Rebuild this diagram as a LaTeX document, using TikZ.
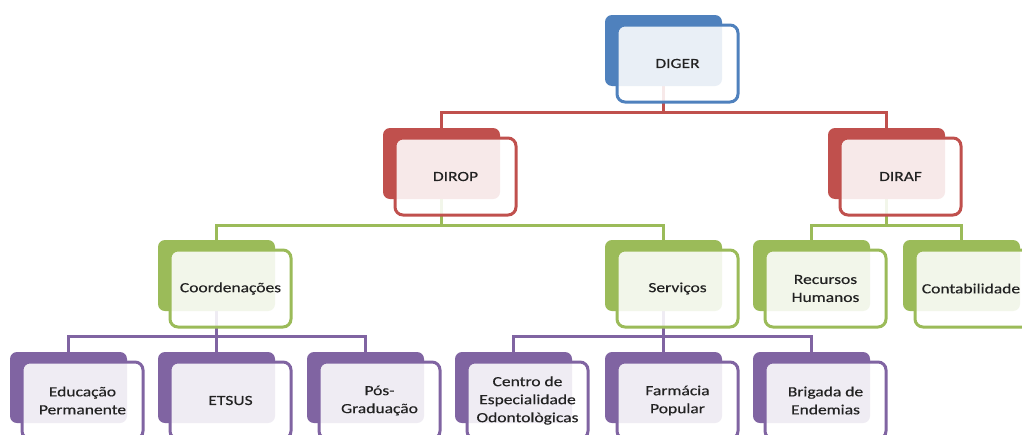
\documentclass[tikz,border=0pt]{standalone}
\usepackage{fontspec}
\setmainfont[FakeStretch=1.25, FakeBold=0.4]{Carlito}
\usetikzlibrary{backgrounds}
\definecolor{oblue}{HTML}{4F81BD}
\definecolor{ored}{HTML}{C0504D}
\definecolor{ogreen}{HTML}{9BBB59}
\definecolor{opurple}{HTML}{8064A2}
\definecolor{otext}{HTML}{222222}
\tikzset{
  backbox/.style={rectangle, rounded corners=7pt, minimum width=117pt, minimum height=71pt, inner sep=0pt, draw=none},
  frontbox/.style={rectangle, rounded corners=8pt, minimum width=121pt, minimum height=77pt, inner sep=2pt,
    line width=3pt, fill=white, fill opacity=0.88, text opacity=1, text=otext, align=center,
    font=\fontsize{14}{18}\selectfont},
  conn/.style={line width=3pt}
}
\newcommand\orgunit[5]{%
  \node[backbox, fill=#4] (#1b) at (#2+58.5, #3+35.5) {};
  \node[frontbox, draw=#4] (#1) at (#2+72.5, #3+48.5) {#5};
}
\begin{document}
\begin{tikzpicture}[x=1pt, y=-1pt]
\clip (0,0) rectangle (1022,434);
% level 1
\orgunit{diger}{605}{15}{oblue}{DIGER}
% level 2
\orgunit{dirop}{383}{128}{ored}{DIROP}
\orgunit{diraf}{828}{128}{ored}{DIRAF}
% level 3
\orgunit{coord}{158}{240}{ogreen}{Coordenações}
\orgunit{serv}{605}{240}{ogreen}{Serviços}
\orgunit{rh}{753}{240}{ogreen}{Recursos\\Humanos}
\orgunit{cont}{903}{240}{ogreen}{Contabilidade\hspace*{9pt}}
% level 4
\orgunit{edu}{10}{352}{opurple}{Educação\\Permanente}
\orgunit{etsus}{158}{352}{opurple}{ETSUS}
\orgunit{pos}{307}{352}{opurple}{Pós-\\Graduação}
\orgunit{ceo}{455}{352}{opurple}{Centro de\\Especialidade\\Odontològicas}
\orgunit{farm}{605}{352}{opurple}{Farmácia\\Popular}
\orgunit{brig}{753}{352}{opurple}{Brigada de\\Endemias}
\coordinate (busA) at (0,112);
\coordinate (busB) at (0,225);
\coordinate (busC) at (0,336);
\begin{scope}[on background layer]
\fill[white] (0,0) rectangle (1022,434);
\draw[conn, ored] (digerb.south) -- (digerb.south |- busA) -| (diropb.north);
\draw[conn, ored] (digerb.south |- busA) -| (dirafb.north);
\draw[conn, ogreen] (diropb.south) -- (diropb.south |- busB) -| (coordb.north);
\draw[conn, ogreen] (diropb.south |- busB) -| (servb.north);
\draw[conn, ogreen] (dirafb.south) -- (dirafb.south |- busB) -| (rhb.north);
\draw[conn, ogreen] (dirafb.south |- busB) -| (contb.north);
\draw[conn, opurple] (coordb.south) -- (coordb.south |- busC) -| (edub.north);
\draw[conn, opurple] (coordb.south |- busC) -| (etsusb.north);
\draw[conn, opurple] (coordb.south |- busC) -| (posb.north);
\draw[conn, opurple] (servb.south) -- (servb.south |- busC) -| (ceob.north);
\draw[conn, opurple] (servb.south |- busC) -| (farmb.north);
\draw[conn, opurple] (servb.south |- busC) -| (brigb.north);
\end{scope}
\end{tikzpicture}
\end{document}
